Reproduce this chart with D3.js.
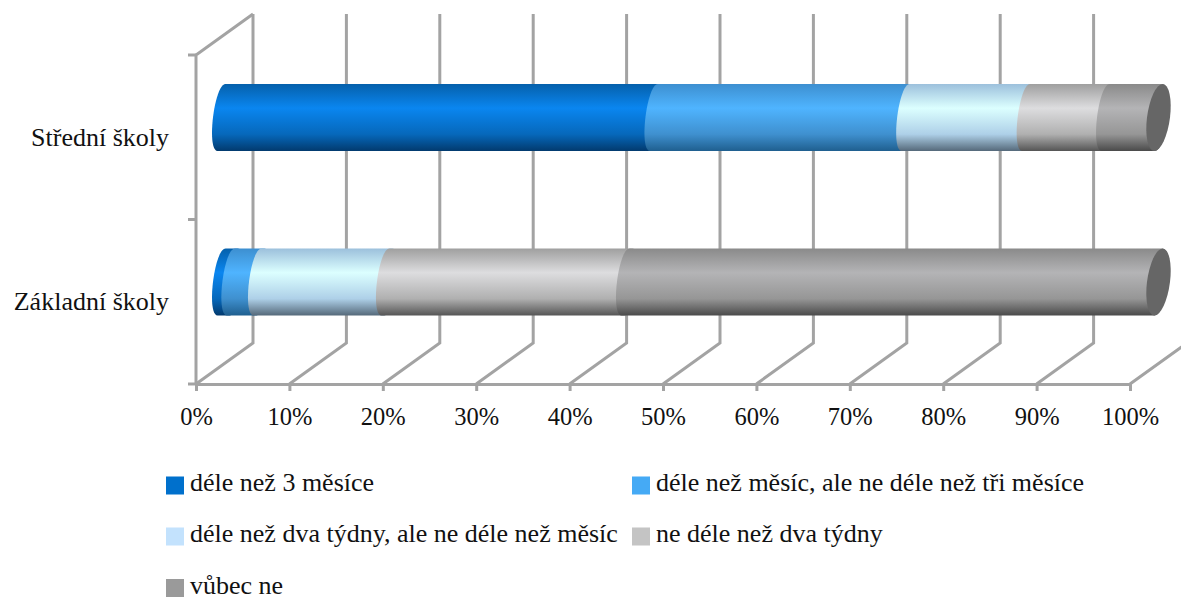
<!DOCTYPE html>
<html>
<head>
<meta charset="utf-8">
<script src="https://cdn.jsdelivr.net/npm/d3@7"></script>
<style>
  html, body { margin: 0; background: #fff; }
  svg { display: block; }
  text { font-family: "Liberation Serif", serif; fill: #111; }
</style>
</head>
<body>
<div id="chart"></div>
<script>
// values, in percent
const categories = ['Základní školy', 'Střední školy'];
const seriesNames = [
    'déle než 3 měsíce',
    'déle než měsíc, ale ne déle než tři měsíce',
    'déle než dva týdny, ale ne déle než měsíc',
    'ne déle než dva týdny',
    'vůbec ne'
];
const zakladni = [1.0, 2.85, 13.7, 25.7, 56.75];
const stredni = [46.3, 26.95, 12.9, 8.5, 5.35];
const xTicks = [0, 10, 20, 30, 40, 50, 60, 70, 80, 90, 100];

// top, highlight, lower, bottom of each cylinder segment
const shades = [
    ['#0560ab', '#0a86f0', '#0668bb', '#023a6e'],
    ['#3d8fd0', '#4fb4ff', '#3f90cf', '#1f5f8f'],
    ['#9cc0dc', '#dcffff', '#aed0e8', '#55697a'],
    ['#9f9f9f', '#dddddf', '#b0b0b0', '#555555'],
    ['#8a8a8a', '#b4b4b6', '#969696', '#4a4a4a']
];
const swatches = ['#0070cc', '#45aaf5', '#c3e2fd', '#c4c4c4', '#9a9a9a'];
const gridColor = '#a3a3a3';

const width = 1181;
const height = 597;
const plot = {left: 196, right: 1130, top: 55, bottom: 384};
const depth = {x: 57, y: -41};
const barR = 33.5;
const barRx = 11.5;
const barLean = 4;
const barDrop = 0.75;
const edgeShift = 2.9;

const x = d3.scaleLinear().domain([0, 100]).range([plot.left, plot.right]);
const y = d3.scaleBand().domain(categories).range([plot.bottom, plot.top]);
const barY = c => y(c) + y.bandwidth() / 2 + depth.y / 2 + barDrop;

const rows = categories.map((c, i) => {
    const vals = i === 0 ? zakladni : stredni;
    const row = {category: c};
    seriesNames.forEach((s, j) => { row[s] = vals[j]; });
    return row;
});
const stacked = d3.stack().keys(seriesNames)(rows);

const svg = d3.select('#chart').append('svg')
    .attr('width', width)
    .attr('height', height);

// gradients
const defs = svg.append('defs');
shades.forEach((s, i) => {
    categories.forEach((c, k) => {
        const cy = barY(c);
        const g = defs.append('linearGradient')
            .attr('id', `shade-${i}-${k}`)
            .attr('gradientUnits', 'userSpaceOnUse')
            .attr('x1', 0).attr('x2', 0)
            .attr('y1', cy - barR).attr('y2', cy + barR);
        [0, 0.36, 0.75, 1].forEach((o, n) => {
            g.append('stop').attr('offset', o).attr('stop-color', s[n]);
        });
    });
});

// walls and floor
const grid = svg.append('g')
    .attr('fill', 'none')
    .attr('stroke', gridColor)
    .attr('stroke-width', 3);

grid.selectAll('.back').data(xTicks).join('path')
    .attr('class', 'back')
    .attr('d', d => `M${x(d)},${plot.bottom}l${depth.x},${depth.y}V${plot.top + depth.y}`);
grid.append('path')
    .attr('d', `M${plot.left},${plot.bottom}V${plot.top}l${depth.x},${depth.y}`);
grid.selectAll('.ytick').data([plot.bottom, (plot.bottom + plot.top) / 2, plot.top]).join('line')
    .attr('class', 'ytick')
    .attr('x1', plot.left - 8).attr('x2', plot.left)
    .attr('y1', d => d).attr('y2', d => d);

const xAxis = d3.axisBottom(x)
    .tickValues(xTicks)
    .tickSize(7)
    .tickPadding(17)
    .tickFormat(d => d + '%');
const xg = svg.append('g')
    .attr('transform', `translate(0,${plot.bottom})`)
    .call(xAxis);
xg.select('.domain').attr('stroke', gridColor).attr('stroke-width', 3);
xg.selectAll('.tick line').attr('stroke', gridColor).attr('stroke-width', 3);
xg.selectAll('text').attr('font-size', 24.5).attr('fill', '#111').style('font-family', '"Liberation Serif", serif');

// category labels
svg.selectAll('.cat').data(categories).join('text')
    .attr('class', 'cat')
    .attr('x', 169)
    .attr('y', d => y(d) + y.bandwidth() / 2)
    .attr('dy', '0.33em')
    .attr('text-anchor', 'end')
    .attr('font-size', 26)
    .text(d => d);

// a segment: left edge bulges left, right edge bulges right, both leaning a little
function segment(x0, x1, cy) {
    const l = x0 - edgeShift;
    return `M${l + barLean},${cy - barR}`
        + `L${x1 + barLean},${cy - barR}`
        + `C${x1 + barLean + barRx * 1.1},${cy - barR} ${x1 - barLean + barRx * 1.1},${cy + barR} ${x1 - barLean},${cy + barR}`
        + `L${l - barLean},${cy + barR}`
        + `C${l - barLean - barRx},${cy + barR} ${l + barLean - barRx},${cy - barR} ${l + barLean},${cy - barR}Z`;
}

const bars = svg.append('g');
stacked.forEach((layer, i) => {
    bars.selectAll(null).data(layer).join('path')
        .attr('d', (d, k) => segment(x(d[0]) + depth.x / 2, x(d[1]) + depth.x / 2, barY(categories[k])))
        .attr('fill', (d, k) => `url(#shade-${i}-${k})`);
});

// end caps
bars.selectAll('.cap').data(categories).join('ellipse')
    .attr('class', 'cap')
    .attr('rx', barRx)
    .attr('ry', barR)
    .attr('fill', '#666')
    .attr('transform', d => `translate(${x(100) + depth.x / 2},${barY(d)}) skewX(-7)`);

// legend
const legendSpots = [[166, 484.5], [632, 484.5], [166, 535.5], [632, 535.5], [166, 587]];
const legend = svg.selectAll('.legend').data(seriesNames).join('g')
    .attr('class', 'legend')
    .attr('transform', (d, i) => `translate(${legendSpots[i][0]},${legendSpots[i][1]})`);
legend.append('rect')
    .attr('y', -8).attr('width', 18).attr('height', 18)
    .attr('fill', (d, i) => swatches[i]);
legend.append('text')
    .attr('x', 24)
    .attr('dy', '0.25em')
    .attr('font-size', 26)
    .text(d => d);
</script>
</body>
</html>
